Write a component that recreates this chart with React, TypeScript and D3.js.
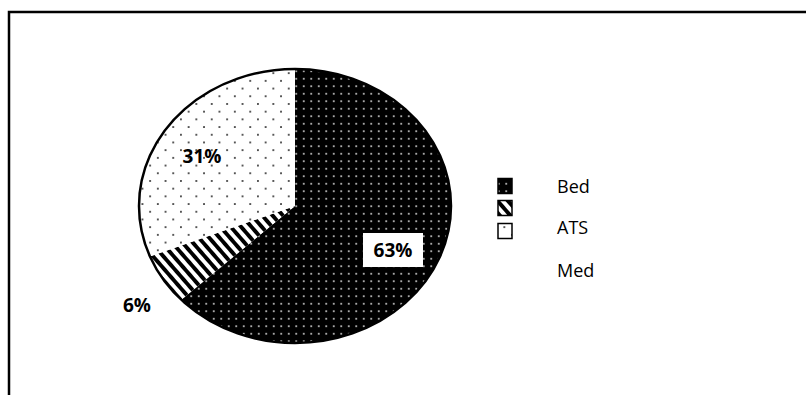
import React from "react";
import * as d3 from "d3";

const categories = ["Bed", "ATS", "Med"];
const values = [63, 6, 31];
const labels = ["63%", "6%", "31%"];
const patternIds = ["pBed", "pAts", "pMed"];

const W = 806;
const H = 395;
const cx = 295;
const cy = 206;
const rx = 156;
const ry = 137;

function slicePath(a0: number, a1: number): string {
  const n = Math.max(2, Math.ceil(((a1 - a0) / (Math.PI * 2)) * 240));
  const pts: [number, number][] = [[cx, cy]];
  d3.range(n + 1).forEach((i) => {
    const a = a0 + ((a1 - a0) * i) / n;
    pts.push([cx + rx * Math.sin(a), cy - ry * Math.cos(a)]);
  });
  return (d3.line()(pts) || "") + "Z";
}

export default function App() {
  const pie = d3.pie<number>().sort(null).value((d) => d)(values);
  const labelPos: [number, number][] = [
    [393, 250],
    [137, 305],
    [202, 156],
  ];
  const legendY = [186, 208, 231];
  const legendTextY = [186, 227, 270];
  return (
    <svg
      width={W}
      height={H}
      style={{ position: "absolute", left: 0, top: 0, display: "block" }}
    >
      <defs>
        <pattern id="pBed" patternUnits="userSpaceOnUse" width={7.5} height={7.5}>
          <rect width={7.5} height={7.5} fill="#000" />
          <circle cx={3.75} cy={3.75} r={1} fill="#d0d0d0" />
        </pattern>
        <pattern
          id="pAts"
          patternUnits="userSpaceOnUse"
          width={7.8}
          height={10}
          patternTransform="rotate(-41)"
        >
          <rect width={7.8} height={10} fill="#fff" />
          <rect width={3.9} height={10} fill="#000" />
        </pattern>
        <pattern id="pMed" patternUnits="userSpaceOnUse" width={15.4} height={15.4}>
          <rect width={15.4} height={15.4} fill="#fff" />
          <circle cx={3.85} cy={3.85} r={1} fill="#222" />
          <circle cx={11.55} cy={11.55} r={1} fill="#222" />
        </pattern>
      </defs>
      <rect width={W} height={H} fill="#fff" />
      <path d={`M9,${H} V12 H${W}`} fill="none" stroke="#000" strokeWidth={2.5} />
      {pie.map((s, i) => (
        <path key={categories[i]} d={slicePath(s.startAngle, s.endAngle)} fill={`url(#${patternIds[i]})`} />
      ))}
      <ellipse cx={cx} cy={cy} rx={rx} ry={ry} fill="none" stroke="#000" strokeWidth={2.5} />
      <rect x={labelPos[0][0] - 30} y={labelPos[0][1] - 17} width={60} height={34} fill="#fff" />
      {labels.map((t, i) => (
        <text
          key={t}
          x={labelPos[i][0]}
          y={labelPos[i][1]}
          textAnchor="middle"
          dominantBaseline="central"
          fontFamily="'Open Sans', sans-serif"
          fontWeight="bold"
          fontSize={19}
          fill="#000"
        >
          {t}
        </text>
      ))}
      {categories.map((c, i) => (
        <g key={c}>
          <rect
            x={498}
            y={legendY[i] - 7.5}
            width={14}
            height={15}
            fill={`url(#${patternIds[i]})`}
            stroke="#000"
            strokeWidth={1.5}
          />
          <text
            x={557}
            y={legendTextY[i]}
            dominantBaseline="central"
            fontFamily="'Open Sans', sans-serif"
            fontSize={18}
            fill="#000"
          >
            {c}
          </text>
        </g>
      ))}
    </svg>
  );
}
